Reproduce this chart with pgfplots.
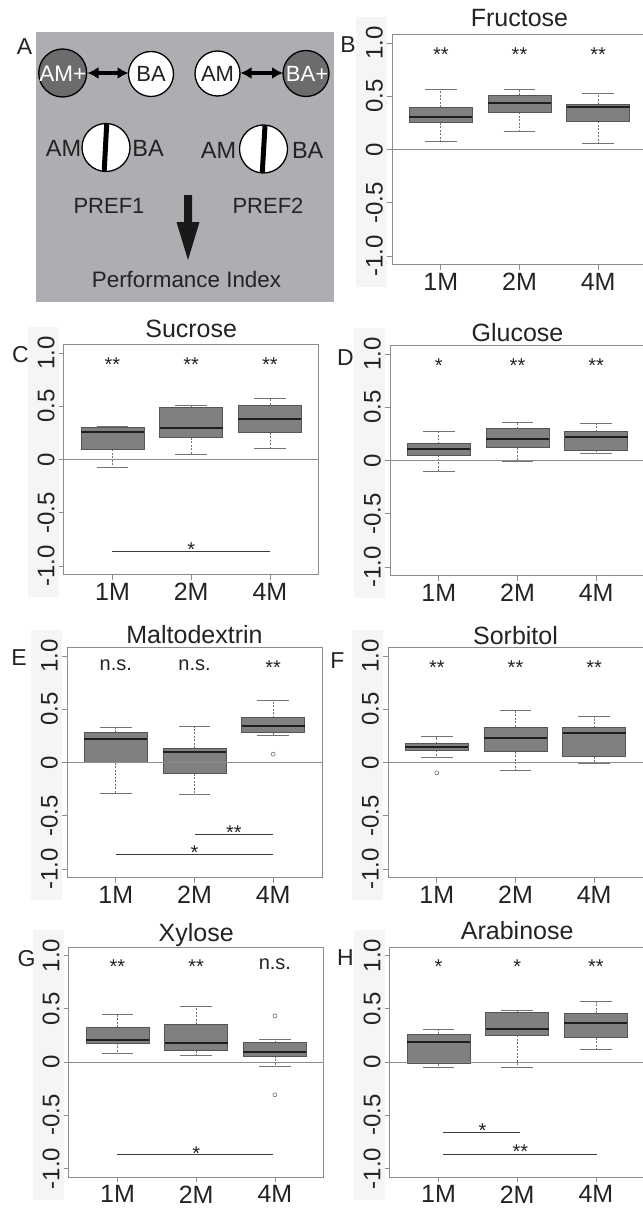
\documentclass[border=0pt]{standalone}
\usepackage{pgfplots}
\pgfplotsset{compat=1.18}
\usepgfplotslibrary{statistics}
\usetikzlibrary{arrows.meta}
\usepackage{fontspec}
\setmainfont{Liberation Sans}
\definecolor{boxfill}{RGB}{128,128,128}
\definecolor{boxdraw}{RGB}{85,85,85}
\definecolor{medc}{RGB}{30,30,30}
\definecolor{whisk}{RGB}{115,115,115}
\definecolor{framec}{RGB}{140,140,140}
\definecolor{panelA}{RGB}{172,174,177}
\definecolor{darkc}{RGB}{108,108,110}
\definecolor{stripc}{RGB}{245,245,245}
\definecolor{sigc}{RGB}{60,60,60}
\definecolor{txt}{RGB}{35,35,35}
\newcommand{\fs}[1]{\fontsize{#1}{#1}\selectfont}

\pgfplotsset{
  boxplot/draw/whisker/.code 2 args={%
    \draw[/pgfplots/boxplot/every whisker/.try, dash pattern=on 2pt off 1.5pt] (boxplot cs:#1) -- (boxplot cs:#2);
    \draw[/pgfplots/boxplot/every whisker/.try] (boxplot whisker cs:#2,0) -- (boxplot whisker cs:#2,1);
  },
  panel/.style={
    scale only axis, width=255pt, height=230pt, anchor=north west,
    xmin=0.38, xmax=3.62, ymin=-1.08, ymax=1.08,
    axis line style={draw=framec, line width=0.8pt},
    xtick={1,2,3}, xticklabels={1M,2M,4M},
    ytick={-1,-0.5,0,0.5,1}, yticklabels={-1.0,-0.5,0,0.5,1.0},
    tickpos=left, tick align=outside, major tick length=5pt,
    tick style={draw=framec, line width=0.8pt},
    xticklabel style={font=\fs{25}, text=txt, anchor=north, inner sep=0pt, yshift=-3.5pt},
    yticklabel style={font=\fs{24}, text=txt, rotate=90, anchor=south, inner xsep=0pt, inner ysep=4pt},
    every axis title/.style={font=\fs{25}, text=txt, at={(0.5,1)}, anchor=base},
    /pgf/number format/assume math mode=true,
  },
  bx/.style={
    boxplot/draw direction=y,
    draw=boxdraw, fill=boxfill, line width=0.8pt,
    mark=o, mark size=2pt, mark options={draw=whisk, fill=none, line width=0.6pt, solid},
    boxplot/box extend=0.8, boxplot/whisker extend=0.4,
    boxplot/every median/.style={draw=medc, line width=2pt},
    boxplot/every whisker/.style={draw=whisk, line width=0.7pt, fill=none},
  },
}
\newcommand{\bxp}[7][]{\addplot[bx, boxplot prepared={draw position=#2, lower whisker=#3, lower quartile=#4, median=#5, upper quartile=#6, upper whisker=#7}] coordinates {#1};}
\newcommand{\zeroline}{\addplot[draw=framec, line width=0.8pt] coordinates {(0.38,0) (3.62,0)};}
\newcommand{\st}[2]{\node[font=\fs{20}, text=txt, anchor=base] at (axis cs:#1,0.83) {#2};}
\newcommand{\ns}[1]{\node[font=\fs{20}, text=txt, anchor=base] at (axis cs:#1,0.865) {n.s.};}

\begin{document}
\begin{tikzpicture}[x=1pt,y=1pt]
\path[use as bounding box] (0,0) rectangle (642,-1209);
% strips behind y tick labels
\foreach \L/\T in {392/34.5, 63.7/344.5, 390/345.5, 67/647.5, 388/647.5, 68.7/947, 389.7/947}{
  \fill[stripc] (\L-36,-\T+17.5) rectangle (\L-5,-\T-252.5);
}
% ---------- Panel A ----------
\fill[panelA] (36,-32) rectangle (334,-302);
\draw[black, line width=1.3pt, fill=darkc] (62.7,-73) circle (24pt);
\draw[black, line width=1.3pt, fill=white] (151,-74) circle (22.5pt);
\draw[black, line width=1.3pt, fill=white] (217.5,-73.5) circle (22.5pt);
\draw[black, line width=1.3pt, fill=darkc] (306,-73.5) circle (23pt);
\node[text=white, font=\fs{22.5}] at (62.7,-73.5) {AM+};
\node[text=txt, font=\fs{22}] at (151,-74) {BA};
\node[text=txt, font=\fs{22}] at (217.5,-73.5) {AM};
\node[text=white, font=\fs{22}] at (307,-73.5) {BA+};
\draw[line width=4pt, {Latex[length=11pt,width=12pt]}-{Latex[length=11pt,width=12pt]}] (87.5,-73) -- (128.5,-73);
\draw[line width=4pt, {Latex[length=11pt,width=12pt]}-{Latex[length=11pt,width=12pt]}] (240.5,-73) -- (283,-73);
\draw[black, line width=1.3pt, fill=white] (106,-147.5) circle (24pt);
\draw[line width=5pt] (106.7,-124) -- (104.2,-171);
\draw[black, line width=1.3pt, fill=white] (263.5,-149) circle (24pt);
\draw[line width=5pt] (265,-125.5) -- (262.3,-172.5);
\node[text=txt, font=\fs{23.5}] at (63.5,-148.5) {AM};
\node[text=txt, font=\fs{23.5}] at (148,-148.5) {BA};
\node[text=txt, font=\fs{23.5}] at (218.5,-150.5) {AM};
\node[text=txt, font=\fs{23.5}] at (307.7,-150.5) {BA};
\node[text=txt, font=\fs{22}] at (109,-205.5) {PREF1};
\node[text=txt, font=\fs{22}] at (268,-205.5) {PREF2};
\fill[black!90] (184,-195) -- (192,-195) -- (192,-222) -- (199.5,-222) -- (188,-260) -- (176.5,-222) -- (184,-222) -- cycle;
\node[text=txt, font=\fs{22.4}] at (186.5,-279.5) {Performance Index};
% panel letters
\foreach \lx/\ly/\lt in {24.5/46.5/A, 348/45/B, 20.5/355/C, 345.5/358/D, 19/657.5/E, 337.5/660.5/F, 26.5/958.5/G, 345.5/957.5/H}{
  \node[text=txt, font=\fs{23}] at (\lx,-\ly) {\lt};
}
% ---------- Panel B ----------
\begin{axis}[panel, at={(392pt,-34.5pt)}, title={Fructose}, title style={yshift=7.5pt}]
\bxp{1}{0.075}{0.251}{0.304}{0.398}{0.567}
\bxp{2}{0.166}{0.348}{0.436}{0.511}{0.564}
\bxp{3}{0.060}{0.266}{0.401}{0.426}{0.527}
\zeroline
\st{1}{**}\st{2}{**}\st{3}{**}
\end{axis}
% ---------- Panel C ----------
\begin{axis}[panel, at={(63.7pt,-344.5pt)}, title={Sucrose}, title style={yshift=7.5pt}]
\bxp{1}{-0.072}{0.094}{0.259}{0.303}{0.3125}
\bxp{2}{0.047}{0.203}{0.297}{0.49}{0.506}
\bxp{3}{0.109}{0.25}{0.378}{0.5125}{0.578}
\zeroline
\st{1}{**}\st{2}{**}\st{3}{**}
\addplot[draw=sigc, line width=1pt] coordinates {(1,-0.866) (3,-0.866)};
\node[font=\fs{20}, text=txt, anchor=base] at (axis cs:2,-0.908) {*};
\end{axis}
% ---------- Panel D ----------
\begin{axis}[panel, at={(390pt,-345.5pt)}, title={Glucose}, title style={yshift=4pt}]
\bxp{1}{-0.106}{0.05}{0.1125}{0.159}{0.272}
\bxp{2}{-0.006}{0.119}{0.206}{0.297}{0.3625}
\bxp{3}{0.066}{0.094}{0.222}{0.272}{0.347}
\zeroline
\st{1}{*}\st{2}{**}\st{3}{**}
\end{axis}
% ---------- Panel E ----------
\begin{axis}[panel, at={(67pt,-647.5pt)}, title={Maltodextrin}, title style={yshift=4pt}]
\bxp{1}{-0.294}{0.0}{0.225}{0.284}{0.328}
\bxp{2}{-0.30}{-0.106}{0.094}{0.134}{0.3375}
\bxp[(0,0.078)]{3}{0.253}{0.281}{0.344}{0.422}{0.584}
\zeroline
\ns{1}\ns{2}\st{3}{**}
\addplot[draw=sigc, line width=1pt] coordinates {(2,-0.675) (3,-0.675)};
\addplot[draw=sigc, line width=1pt] coordinates {(1,-0.86) (3,-0.86)};
\node[font=\fs{20}, text=txt, anchor=base] at (axis cs:2.5,-0.727) {**};
\node[font=\fs{20}, text=txt, anchor=base] at (axis cs:2,-0.914) {*};
\end{axis}
% ---------- Panel F ----------
\begin{axis}[panel, at={(388pt,-647.5pt)}, title={Sorbitol}, title style={yshift=3.5pt}]
\bxp[(0,-0.097)]{1}{0.047}{0.116}{0.15}{0.178}{0.244}
\bxp{2}{-0.078}{0.103}{0.228}{0.334}{0.494}
\bxp{3}{-0.009}{0.056}{0.278}{0.328}{0.431}
\zeroline
\st{1}{**}\st{2}{**}\st{3}{**}
\end{axis}
% ---------- Panel G ----------
\begin{axis}[panel, at={(68.7pt,-947pt)}, title={Xylose}, title style={yshift=5.5pt}]
\bxp{1}{0.085}{0.179}{0.21}{0.327}{0.452}
\bxp{2}{0.066}{0.107}{0.182}{0.355}{0.524}
\bxp[(0,0.433) (0,-0.308)]{3}{-0.038}{0.057}{0.097}{0.182}{0.21}
\zeroline
\st{1}{**}\st{2}{**}\ns{3}
\addplot[draw=sigc, line width=1pt] coordinates {(1,-0.873) (2.98,-0.873)};
\node[font=\fs{20}, text=txt, anchor=base] at (axis cs:2,-0.924) {*};
\end{axis}
% ---------- Panel H ----------
\begin{axis}[panel, at={(389.7pt,-947pt)}, title={Arabinose}, title style={yshift=8pt}]
\bxp{1}{-0.053}{-0.016}{0.188}{0.263}{0.304}
\bxp{2}{-0.05}{0.25}{0.31}{0.466}{0.482}
\bxp{3}{0.119}{0.228}{0.366}{0.46}{0.567}
\zeroline
\st{1}{*}\st{2}{*}\st{3}{**}
\addplot[draw=sigc, line width=1pt] coordinates {(1.06,-0.66) (2.03,-0.66)};
\addplot[draw=sigc, line width=1pt] coordinates {(1.06,-0.864) (3.01,-0.864)};
\node[font=\fs{20}, text=txt, anchor=base] at (axis cs:1.56,-0.706) {*};
\node[font=\fs{20}, text=txt, anchor=base] at (axis cs:2.04,-0.906) {**};
\end{axis}
\end{tikzpicture}
\end{document}
